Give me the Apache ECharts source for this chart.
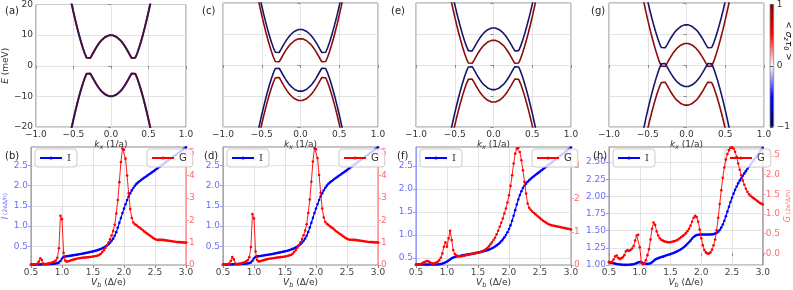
<!DOCTYPE html>
<html><head><meta charset="utf-8">
<script src="https://cdn.jsdelivr.net/npm/echarts@6/dist/echarts.min.js"></script>
<style>html,body{margin:0;padding:0;background:#fff}#c{width:793px;height:290px}</style>
</head><body><div id="c"></div><script>
// ---------- band-structure panels (k >= 0 half, mirrored for k < 0) ----------
const kHalf = [0,0.025,0.05,0.075,0.1,0.125,0.15,0.175,0.2,0.225,0.25,0.275,0.3,0.325,0.35,0.375,0.4,0.425,0.45,0.475,0.5,0.525,0.55,0.575,0.6];
// (a) degenerate bands
const a_up = [10.00,9.94,9.74,9.40,8.94,8.34,7.62,6.77,5.80,4.73,3.60,2.54,2.00,2.63,4.07,5.87,7.88,10.07,12.41,14.91,17.54,20.32,23.23,26.28,29.47];
const a_lo = [-10.00,-9.94,-9.74,-9.40,-8.94,-8.34,-7.62,-6.77,-5.80,-4.73,-3.60,-2.54,-2.00,-2.63,-4.07,-5.87,-7.88,-10.07,-12.41,-14.91,-17.54,-20.32,-23.23,-26.28,-29.47];
// (c)
const c_blueUp = [11.50,11.44,11.24,10.90,10.44,9.84,9.12,8.27,7.30,6.23,5.10,4.04,3.50,4.13,5.57,7.37,9.38,11.57,13.91,16.41,19.04,21.82,24.73,27.78,30.97];
const c_redUp = [8.50,8.44,8.24,7.90,7.44,6.84,6.12,5.27,4.30,3.23,2.10,1.04,0.50,1.13,2.57,4.37,6.38,8.57,10.91,13.41,16.04,18.82,21.73,24.78,27.97];
const c_blueLo = [-8.50,-8.44,-8.24,-7.90,-7.44,-6.84,-6.12,-5.27,-4.30,-3.23,-2.10,-1.04,-0.50,-1.13,-2.57,-4.37,-6.38,-8.57,-10.91,-13.41,-16.04,-18.82,-21.73,-24.78,-27.97];
const c_redLo = [-11.50,-11.44,-11.24,-10.90,-10.44,-9.84,-9.12,-8.27,-7.30,-6.23,-5.10,-4.04,-3.50,-4.13,-5.57,-7.37,-9.38,-11.57,-13.91,-16.41,-19.04,-21.82,-24.73,-27.78,-30.97];
// (e)
const e_blueUp = [12.00,11.94,11.74,11.40,10.94,10.34,9.62,8.77,7.80,6.73,5.60,4.54,4.00,4.63,6.07,7.87,9.88,12.07,14.41,16.91,19.54,22.32,25.23,28.28,31.47];
const e_redUp = [8.00,7.94,7.74,7.40,6.94,6.34,5.62,4.77,3.80,2.73,1.60,0.54,0.00,0.63,2.07,3.87,5.88,8.07,10.41,12.91,15.54,18.32,21.23,24.28,27.47];
const e_blueLo = [-8.00,-7.94,-7.74,-7.40,-6.94,-6.34,-5.62,-4.77,-3.80,-2.73,-1.60,-0.54,0.00,-0.63,-2.07,-3.87,-5.88,-8.07,-10.41,-12.91,-15.54,-18.32,-21.23,-24.28,-27.47];
const e_redLo = [-12.00,-11.94,-11.74,-11.40,-10.94,-10.34,-9.62,-8.77,-7.80,-6.73,-5.60,-4.54,-4.00,-4.63,-6.07,-7.87,-9.88,-12.07,-14.41,-16.91,-19.54,-22.32,-25.23,-28.28,-31.47];
// (g)
const g_blueUp = [13.00,12.94,12.74,12.40,11.94,11.34,10.62,9.77,8.80,7.73,6.60,5.54,5.00,5.63,7.07,8.87,10.88,13.07,15.41,17.91,20.54,23.32,26.23,29.28,32.47];
const g_redUp = [7.00,6.94,6.74,6.40,5.94,5.34,4.62,3.77,2.80,1.73,0.60,-0.46,-1.00,-0.37,1.07,2.87,4.88,7.07,9.41,11.91,14.54,17.32,20.23,23.28,26.47];
const g_blueLo = [-7.00,-6.94,-6.74,-6.40,-5.94,-5.34,-4.62,-3.77,-2.80,-1.73,-0.60,0.46,1.00,0.37,-1.07,-2.87,-4.88,-7.07,-9.41,-11.91,-14.54,-17.32,-20.23,-23.28,-26.47];
const g_redLo = [-13.00,-12.94,-12.74,-12.40,-11.94,-11.34,-10.62,-9.77,-8.80,-7.73,-6.60,-5.54,-5.00,-5.63,-7.07,-8.87,-10.88,-13.07,-15.41,-17.91,-20.54,-23.32,-26.23,-29.28,-32.47];

// ---------- transport panels: bias from 0.5 to 3.0 in steps of 0.025 ----------
const vStart = 0.5, vStep = 0.025, vCount = 101;
const I_b = [0.05,0.05,0.05,0.05,0.051,0.052,0.054,0.056,0.057,0.058,0.059,0.06,0.062,0.065,0.068,0.072,0.078,0.086,0.10,0.14,0.20,0.24,0.25,0.255,0.26,0.266,0.272,0.278,0.284,0.29,0.297,0.304,0.311,0.318,0.326,0.334,0.342,0.35,0.358,0.367,0.376,0.385,0.395,0.406,0.42,0.435,0.452,0.472,0.495,0.522,0.553,0.59,0.635,0.69,0.76,0.85,0.96,1.08,1.20,1.32,1.43,1.54,1.64,1.73,1.81,1.88,1.94,1.995,2.04,2.075,2.105,2.135,2.163,2.19,2.217,2.244,2.271,2.298,2.325,2.352,2.38,2.408,2.436,2.464,2.492,2.52,2.548,2.576,2.604,2.632,2.66,2.688,2.716,2.744,2.772,2.80,2.828,2.856,2.884,2.912,2.94];
const G_b = [0.00,0.01,0.02,0.03,0.05,0.15,0.30,0.22,0.06,0.03,0.05,0.06,0.08,0.10,0.12,0.15,0.20,0.32,0.75,2.20,2.05,0.55,0.20,0.15,0.17,0.19,0.21,0.23,0.25,0.27,0.29,0.30,0.31,0.32,0.33,0.33,0.34,0.35,0.36,0.37,0.38,0.39,0.40,0.42,0.45,0.50,0.58,0.66,0.76,0.88,1.00,1.15,1.32,1.52,1.80,2.30,2.90,3.70,4.60,5.20,5.15,4.75,4.00,3.20,2.50,2.10,1.90,1.82,1.78,1.72,1.67,1.62,1.56,1.50,1.45,1.40,1.35,1.30,1.25,1.20,1.16,1.13,1.12,1.12,1.12,1.12,1.11,1.10,1.09,1.08,1.07,1.06,1.05,1.04,1.03,1.02,1.02,1.01,1.01,1.00,1.00];
const I_d = [0.05,0.05,0.05,0.05,0.051,0.053,0.056,0.058,0.059,0.06,0.061,0.062,0.064,0.067,0.07,0.074,0.08,0.088,0.103,0.145,0.205,0.243,0.252,0.257,0.262,0.268,0.274,0.28,0.286,0.292,0.299,0.306,0.313,0.32,0.328,0.336,0.344,0.352,0.36,0.369,0.378,0.387,0.397,0.408,0.422,0.437,0.454,0.474,0.497,0.524,0.555,0.592,0.637,0.692,0.762,0.852,0.962,1.082,1.202,1.322,1.432,1.542,1.642,1.732,1.812,1.882,1.942,1.997,2.042,2.077,2.107,2.137,2.165,2.192,2.219,2.246,2.273,2.30,2.327,2.354,2.382,2.41,2.438,2.466,2.494,2.522,2.55,2.578,2.606,2.634,2.662,2.69,2.718,2.746,2.774,2.802,2.83,2.858,2.886,2.914,2.942];
const G_d = [0.00,0.01,0.02,0.03,0.06,0.18,0.35,0.25,0.07,0.03,0.05,0.06,0.08,0.10,0.12,0.16,0.22,0.35,0.80,2.28,2.08,0.60,0.22,0.16,0.17,0.19,0.21,0.23,0.25,0.27,0.28,0.29,0.30,0.31,0.32,0.33,0.34,0.35,0.36,0.37,0.38,0.39,0.41,0.43,0.46,0.51,0.59,0.67,0.77,0.89,1.01,1.16,1.33,1.54,1.82,2.32,2.92,3.72,4.62,5.22,5.17,4.78,4.02,3.22,2.52,2.12,1.92,1.84,1.79,1.73,1.68,1.63,1.57,1.51,1.46,1.41,1.36,1.31,1.26,1.21,1.17,1.14,1.13,1.13,1.12,1.12,1.11,1.10,1.09,1.08,1.07,1.06,1.05,1.04,1.03,1.03,1.02,1.02,1.01,1.01,1.00];
const I_f = [0.36,0.36,0.36,0.36,0.36,0.36,0.36,0.36,0.36,0.36,0.36,0.36,0.36,0.36,0.362,0.366,0.372,0.38,0.392,0.408,0.425,0.445,0.47,0.495,0.512,0.524,0.533,0.54,0.546,0.552,0.558,0.564,0.57,0.576,0.582,0.588,0.594,0.60,0.607,0.614,0.621,0.628,0.635,0.643,0.652,0.661,0.671,0.683,0.697,0.713,0.731,0.752,0.775,0.80,0.83,0.865,0.905,0.95,1.00,1.06,1.13,1.21,1.31,1.42,1.54,1.66,1.77,1.87,1.95,2.02,2.07,2.115,2.155,2.19,2.22,2.248,2.275,2.301,2.327,2.353,2.379,2.405,2.431,2.457,2.483,2.509,2.535,2.561,2.587,2.613,2.639,2.665,2.691,2.717,2.743,2.769,2.795,2.821,2.847,2.873,2.90];
const G_f = [0.00,0.01,0.02,0.03,0.05,0.08,0.10,0.12,0.11,0.08,0.05,0.04,0.05,0.07,0.10,0.14,0.22,0.35,0.55,0.68,0.55,0.80,1.03,0.75,0.45,0.33,0.29,0.27,0.26,0.26,0.27,0.28,0.29,0.30,0.31,0.32,0.33,0.34,0.35,0.36,0.37,0.38,0.40,0.42,0.44,0.47,0.51,0.56,0.62,0.68,0.75,0.82,0.92,1.03,1.15,1.27,1.40,1.55,1.70,1.88,2.10,2.38,2.70,3.05,3.35,3.50,3.52,3.40,3.15,2.85,2.50,2.15,1.85,1.72,1.66,1.61,1.57,1.53,1.49,1.45,1.41,1.37,1.33,1.30,1.27,1.24,1.22,1.20,1.19,1.18,1.17,1.16,1.15,1.14,1.13,1.12,1.11,1.10,1.09,1.08,1.07];
const I_h = [1.040,1.035,1.030,1.025,1.020,1.015,1.012,1.008,1.005,1.003,1.002,1.002,1.003,1.004,1.006,1.008,1.012,1.018,1.028,1.038,1.042,1.038,1.030,1.022,1.018,1.016,1.018,1.025,1.040,1.060,1.078,1.090,1.100,1.108,1.115,1.122,1.130,1.138,1.145,1.152,1.160,1.168,1.176,1.185,1.195,1.206,1.218,1.232,1.248,1.266,1.286,1.308,1.332,1.358,1.385,1.408,1.425,1.435,1.440,1.443,1.444,1.444,1.444,1.444,1.444,1.444,1.445,1.447,1.450,1.457,1.468,1.485,1.510,1.545,1.590,1.645,1.710,1.780,1.850,1.918,1.980,2.040,2.095,2.145,2.190,2.230,2.265,2.300,2.335,2.368,2.400,2.432,2.463,2.494,2.525,2.556,2.587,2.618,2.649,2.680,2.710];
const G_h = [-0.22,-0.23,-0.22,-0.16,-0.08,-0.06,-0.12,-0.15,-0.13,-0.10,-0.05,0.05,0.08,0.06,0.08,0.12,0.18,0.32,0.45,0.47,0.15,-0.22,-0.28,-0.26,-0.18,-0.05,0.10,0.35,0.62,0.78,0.72,0.55,0.45,0.38,0.34,0.32,0.30,0.29,0.28,0.28,0.28,0.29,0.30,0.31,0.33,0.35,0.38,0.41,0.44,0.47,0.51,0.56,0.62,0.70,0.80,0.90,0.95,0.92,0.80,0.60,0.38,0.20,0.08,0.02,-0.01,-0.01,0.02,0.09,0.20,0.35,0.58,0.90,1.25,1.60,1.92,2.18,2.38,2.52,2.62,2.68,2.69,2.66,2.58,2.45,2.28,2.12,1.98,1.85,1.74,1.64,1.56,1.50,1.46,1.43,1.40,1.37,1.34,1.31,1.28,1.26,1.24];

// tick labels
const iTicksStd = [0.5, 1.0, 1.5, 2.0, 2.5];
const iTicksH = [1.00, 1.25, 1.50, 1.75, 2.00, 2.25, 2.50];
const gTicks5 = [0, 1, 2, 3, 4, 5];
const gTicks3 = [0, 1, 2, 3];
const gTicksH = [0.0, 0.5, 1.0, 1.5, 2.0, 2.5];
const topLabels = ['(a)', '(c)', '(e)', '(g)'];
const botLabels = ['(b)', '(d)', '(f)', '(h)'];

// ---------- layout / style ----------
const FONT = 'DejaVu Sans';
const lefts = [31, 223, 416, 609];
const W = 155;
const BLUE_BAND = '#16166c', RED_BAND = '#8e0b0b';
const minus = s => String(s).replace('-', '\u2212');

const V = Array.from({length: vCount}, (_, i) => +(vStart + i * vStep).toFixed(3));
function mirror(vals) {
  const out = [];
  for (let i = kHalf.length - 1; i > 0; i--) out.push([-kHalf[i], vals[i]]);
  for (let i = 0; i < kHalf.length; i++) out.push([kHalf[i], vals[i]]);
  return out;
}
const pair = arr => V.map((v, i) => [v, arr[i]]);

const grid = [], xAxis = [], yAxis = [], series = [], legend = [], title = [];
const nameRich = {
  i: {fontStyle: 'italic', fontFamily: FONT, fontSize: 9, color: '#333'},
  s: {fontStyle: 'italic', fontFamily: FONT, fontSize: 6.5, color: '#333', padding: [5, 0, 0, 0]},
  n: {fontFamily: FONT, fontSize: 9, color: '#333'}
};

// top panels
const bandSets = [
  [[a_up, RED_BAND], [a_lo, RED_BAND], [a_up, BLUE_BAND], [a_lo, BLUE_BAND]],
  [[c_redUp, RED_BAND], [c_redLo, RED_BAND], [c_blueUp, BLUE_BAND], [c_blueLo, BLUE_BAND]],
  [[e_redUp, RED_BAND], [e_redLo, RED_BAND], [e_blueUp, BLUE_BAND], [e_blueLo, BLUE_BAND]],
  [[g_redUp, RED_BAND], [g_redLo, RED_BAND], [g_blueUp, BLUE_BAND], [g_blueLo, BLUE_BAND]]
];
for (let p = 0; p < 4; p++) {
  grid.push({left: lefts[p], top: 3, width: W, height: 124, show: true, borderColor: '#8a8a8a', borderWidth: 1, backgroundColor: '#fff'});
  xAxis.push({
    type: 'value', gridIndex: p, min: -1, max: 1, interval: 0.5,
    axisLine: {show: false}, axisTick: {show: true, length: 3, lineStyle: {color: '#8a8a8a'}},
    axisLabel: {fontFamily: FONT, fontSize: 9, color: '#333', margin: 3, formatter: v => minus(v.toFixed(1))},
    splitLine: {show: true, lineStyle: {color: '#dcdcdc', width: 0.8}},
    name: '{i|k}{s|x}{n| (1/a)}', nameLocation: 'middle', nameGap: 12,
    nameTextStyle: {rich: nameRich}
  });
  yAxis.push({
    type: 'value', gridIndex: p, min: -20, max: 20, interval: 10,
    axisLine: {show: false}, axisTick: {show: true, length: 3, lineStyle: {color: '#8a8a8a'}},
    axisLabel: {show: p === 0, fontFamily: FONT, fontSize: 9, color: '#333', margin: 3, formatter: v => minus(v)},
    splitLine: {show: true, lineStyle: {color: '#dcdcdc', width: 0.8}},
    name: p === 0 ? '{i|E}{n| (meV)}' : '', nameLocation: 'middle', nameGap: 19,
    nameTextStyle: {rich: nameRich}
  });
  bandSets[p].forEach(([arr, col], j) => {
    series.push({
      type: 'line', xAxisIndex: p, yAxisIndex: p, data: mirror(arr), showSymbol: false,
      lineStyle: {color: col, width: (p === 0 && col === RED_BAND) ? 2.0 : 1.6, opacity: (p === 0 && col === BLUE_BAND) ? 0.8 : 1},
      itemStyle: {color: col}, silent: true, z: 2 + j
    });
  });
  title.push({text: topLabels[p], left: [0, 197, 386, 586][p], top: 1, textStyle: {fontFamily: FONT, fontSize: 10, fontWeight: 'normal', color: '#222'}});
}

// bottom panels
const bottom = [
  {I: I_b, G: G_b, iMin: 0.04, iMax: 2.95, iT: iTicksStd, gMin: 0, gMax: 5.27, gT: gTicks5, iFmt: v => v.toFixed(1), gFmt: v => String(v)},
  {I: I_d, G: G_d, iMin: 0.04, iMax: 2.95, iT: iTicksStd, gMin: 0, gMax: 5.27, gT: gTicks5, iFmt: v => v.toFixed(1), gFmt: v => String(v)},
  {I: I_f, G: G_f, iMin: 0.35, iMax: 2.91, iT: iTicksStd, gMin: 0, gMax: 3.55, gT: gTicks3, iFmt: v => v.toFixed(1), gFmt: v => String(v)},
  {I: I_h, G: G_h, iMin: 1.0, iMax: 2.72, iT: iTicksH, gMin: -0.3, gMax: 2.70, gT: gTicksH, iFmt: v => v.toFixed(2), gFmt: v => v.toFixed(1)}
];
const BLUE_LBL = '#6b6bff', RED_LBL = '#ff6b6b';
const legendBase = {itemWidth: 22, itemHeight: 4, itemGap: 4, padding: [4, 6, 4, 4], borderColor: '#cccccc', borderWidth: 1, borderRadius: 3, backgroundColor: 'rgba(255,255,255,0.8)'};
for (let p = 0; p < 4; p++) {
  const gi = 4 + p, b = bottom[p];
  grid.push({left: lefts[p], top: 147, width: W, height: 123, show: true, borderColor: '#8a8a8a', borderWidth: 1, backgroundColor: '#fff'});
  xAxis.push({
    type: 'value', gridIndex: gi, min: 0.5, max: 3.0, interval: 0.5,
    axisLine: {show: false}, axisTick: {show: true, length: 3, lineStyle: {color: '#8a8a8a'}},
    axisLabel: {fontFamily: FONT, fontSize: 9, color: '#444', margin: 3, formatter: v => v.toFixed(1)},
    splitLine: {show: true, lineStyle: {color: '#dcdcdc', width: 0.8}},
    name: '{i|V}{s|b}{n| (Δ/e)}', nameLocation: 'middle', nameGap: 12,
    nameTextStyle: {rich: nameRich}
  });
  series.push({
    name: 'I', type: 'line', xAxisIndex: gi, yAxisIndex: 4 + p, data: pair(b.I),
    symbol: 'circle', symbolSize: 2.6, showSymbol: true,
    lineStyle: {color: '#0000ff', width: 1.2}, itemStyle: {color: '#0000ff'}, z: 3
  });
  title.push({text: botLabels[p], left: [0, 199, 392, 588][p], top: 146, textStyle: {fontFamily: FONT, fontSize: 10, fontWeight: 'normal', color: '#222'}});
  legend.push(Object.assign({data: ['I'], left: lefts[p] + 4, top: 149,
    textStyle: {fontFamily: 'DejaVu Serif', fontSize: 10, color: '#333'}}, legendBase));
  legend.push(Object.assign({data: ['G'], left: lefts[p] + 116, top: 149,
    textStyle: {fontFamily: FONT, fontSize: 10, color: '#333'}}, legendBase));
}
for (let p = 0; p < 4; p++) {
  const gi = 4 + p, b = bottom[p];
  yAxis.push({
    type: 'value', gridIndex: gi, position: 'left', min: b.iMin, max: b.iMax,
    axisLine: {show: true, lineStyle: {color: '#9a9aff', width: 1}},
    axisTick: {show: true, length: 3, customValues: b.iT, lineStyle: {color: '#9a9aff'}},
    axisLabel: {customValues: b.iT, fontFamily: FONT, fontSize: 9, color: BLUE_LBL, margin: 3, formatter: b.iFmt},
    splitLine: {show: true, lineStyle: {color: '#dcdcdc', width: 0.8}},
    name: p === 0 ? '{i|I}{f| (2eΔ/h)}' : '', nameLocation: 'middle', nameGap: 20,
    nameTextStyle: {rich: {i: {fontStyle: 'italic', fontFamily: FONT, fontSize: 8, color: BLUE_LBL}, f: {fontFamily: FONT, fontSize: 6, color: BLUE_LBL}}}
  });
}
for (let p = 0; p < 4; p++) {
  const gi = 4 + p, b = bottom[p];
  yAxis.push({
    type: 'value', gridIndex: gi, position: 'right', min: b.gMin, max: b.gMax,
    axisLine: {show: true, lineStyle: {color: '#ff9a9a', width: 1}},
    axisTick: {show: true, length: 3, customValues: b.gT, lineStyle: {color: '#ff9a9a'}},
    axisLabel: {customValues: b.gT, fontFamily: FONT, fontSize: 9, color: RED_LBL, margin: 3, formatter: b.gFmt},
    splitLine: {show: false},
    name: p === 3 ? '{i|G}{f| (2e²Δ/h)}' : '', nameLocation: 'middle', nameGap: 18, nameRotate: 90,
    nameTextStyle: {rich: {i: {fontStyle: 'italic', fontFamily: FONT, fontSize: 8, color: RED_LBL}, f: {fontFamily: FONT, fontSize: 6, color: RED_LBL}}}
  });
  series.push({
    name: 'G', type: 'line', xAxisIndex: 4 + p, yAxisIndex: 8 + p, data: pair(b.G),
    symbol: 'circle', symbolSize: 2.6, showSymbol: true,
    lineStyle: {color: '#ff0000', width: 0.9}, itemStyle: {color: '#ff0000'}, z: 4
  });
}

// colorbar
grid.push({left: 770, top: 3, width: 8, height: 124, show: true, borderColor: '#8a8a8a', borderWidth: 0.8,
  backgroundColor: {type: 'linear', x: 0, y: 0, x2: 0, y2: 1, colorStops: [
    {offset: 0, color: '#800000'}, {offset: 0.25, color: '#ff0000'}, {offset: 0.5, color: '#ffffff'},
    {offset: 0.75, color: '#0000ff'}, {offset: 1, color: '#00004d'}]}});
xAxis.push({type: 'value', gridIndex: 8, min: 0, max: 1, show: false});
yAxis.push({
  type: 'value', gridIndex: 8, position: 'right', min: -1, max: 1, interval: 1,
  axisLine: {show: false}, axisTick: {show: true, length: 3, lineStyle: {color: '#555'}},
  axisLabel: {fontFamily: FONT, fontSize: 9, color: '#333', margin: 3, formatter: v => minus(v)},
  splitLine: {show: false}
});

const graphic = [{
  type: 'text', x: 788, y: 41, rotation: -Math.PI / 2, silent: true,
  style: {text: '{n|< }{i|σ}{s|z}{i|τ}{s|0}{n| >}', rich: nameRich, align: 'center', verticalAlign: 'middle'}
}];

const chart = echarts.init(document.getElementById('c'), null, {renderer: 'canvas'});
chart.setOption({animation: false, backgroundColor: '#fff', textStyle: {fontFamily: FONT}, grid, xAxis, yAxis, series, legend, title, graphic});
</script></body></html>
